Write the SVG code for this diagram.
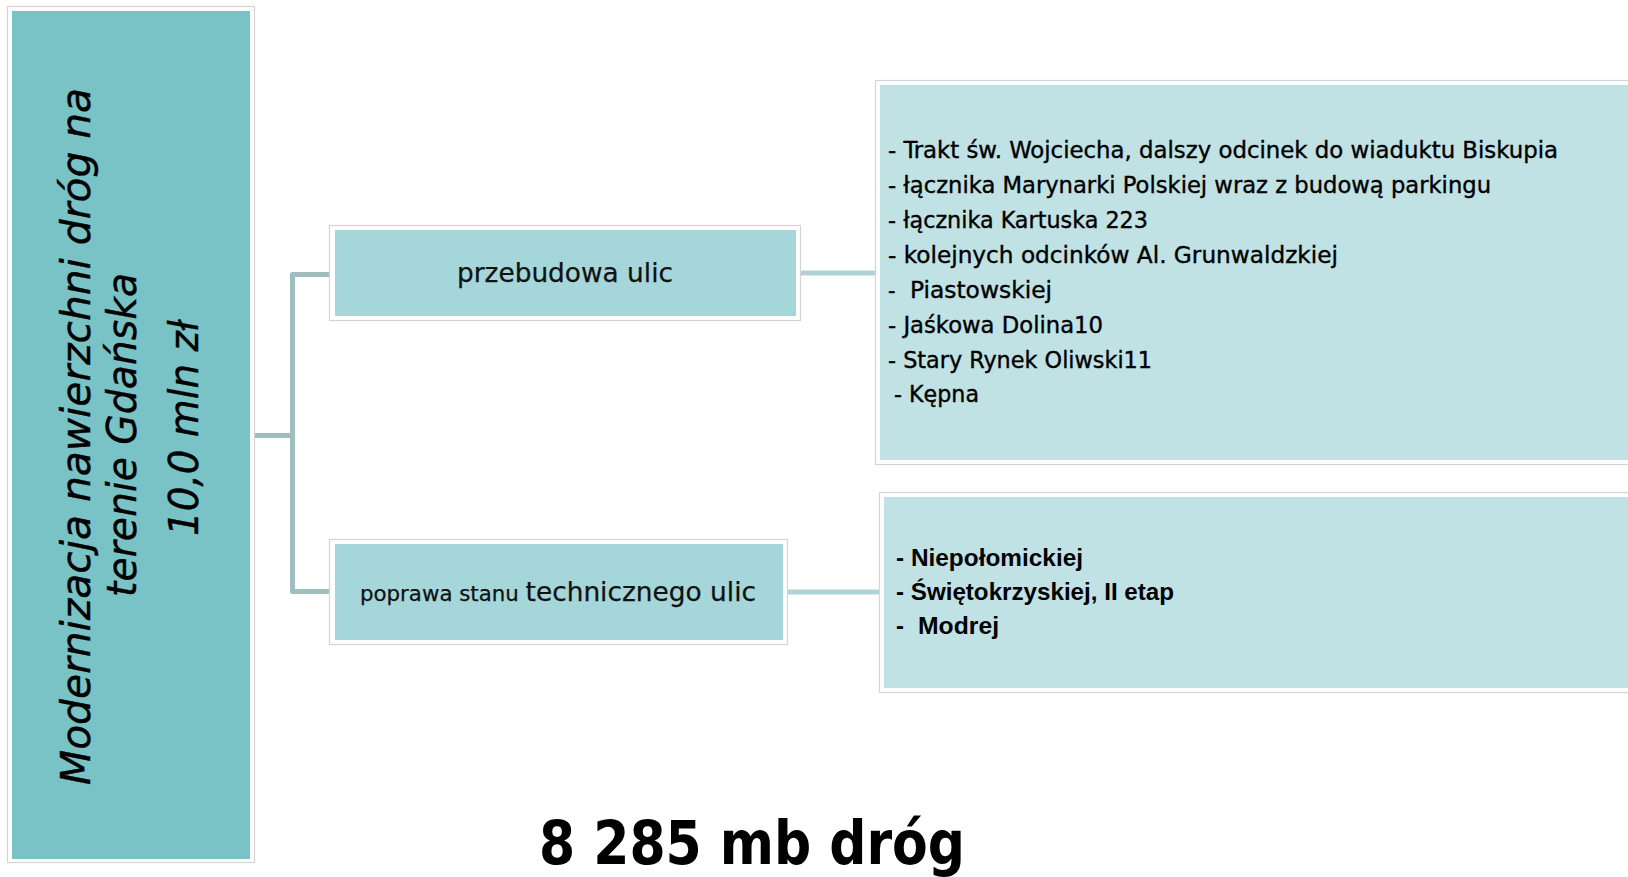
<svg xmlns="http://www.w3.org/2000/svg" width="1628" height="877" viewBox="0 0 1628 877">
<style>
.frame{fill:#FFFFFF;stroke:#D4D4D4;stroke-width:1.2}
.root{fill:#79C3C7}
.node{fill:#A5D6D9}
.box{fill:#C0E2E4}
.conn{fill:none;stroke:#9EBEC0;stroke-width:5;stroke-linejoin:round;stroke-linecap:butt}
.conn2{fill:none;stroke:#B0D4D6;stroke-width:5}
.rt{font-family:"DejaVu Sans","Liberation Sans",sans-serif;font-style:italic;font-size:40px;fill:#000;stroke:#000;stroke-width:0.4;text-anchor:middle}
.nt{font-family:"DejaVu Sans","Liberation Sans",sans-serif;font-size:26px;fill:#111;stroke:#111;stroke-width:0.25}
.it{font-family:"DejaVu Sans","Liberation Sans",sans-serif;font-stretch:condensed;font-size:23px;fill:#000;stroke:#000;stroke-width:0.35}
.bt{font-family:"Liberation Sans",Arial,sans-serif;font-weight:bold;font-size:24px;fill:#000}
.big{font-family:"DejaVu Sans","Liberation Sans",sans-serif;font-weight:bold;font-stretch:condensed;font-size:60px;fill:#000}
</style>
<rect x="0" y="0" width="1628" height="877" fill="#FFFFFF"/>
<g id="connectors">
<path class="conn" d="M255 435.5 H292.5"/>
<path class="conn" d="M330 274.5 H292.5 V591.5 H330"/>
<path class="conn2" d="M800 273 H875"/>
<path class="conn2" d="M788 592 H879"/>
</g>
<g id="root">
<rect class="frame" x="7.5" y="6.5" width="247" height="856"/>
<rect class="root" x="12" y="11" width="238" height="848"/>
<text class="rt" transform="translate(90 436.5) rotate(-90)" x="0" y="0" textLength="697" lengthAdjust="spacingAndGlyphs">Modernizacja nawierzchni dróg na</text>
<text class="rt" transform="translate(136 435) rotate(-90)" x="0" y="0" textLength="324" lengthAdjust="spacingAndGlyphs">terenie Gdańska</text>
<text class="rt" transform="translate(198 428) rotate(-90)" x="0" y="0" textLength="216" lengthAdjust="spacingAndGlyphs">10,0 mln zł</text>
</g>
<g id="node-przebudowa">
<rect class="frame" x="329.5" y="225.5" width="471" height="95"/>
<rect class="node" x="335" y="230" width="461" height="86"/>
<text class="nt" x="457" y="282" textLength="216" lengthAdjust="spacingAndGlyphs">przebudowa ulic</text>
</g>
<g id="node-poprawa">
<rect class="frame" x="329.5" y="539.5" width="458" height="105"/>
<rect class="node" x="335" y="544" width="448" height="96"/>
<text class="nt" x="360" y="601" textLength="396" lengthAdjust="spacingAndGlyphs"><tspan font-size="21">poprawa stanu </tspan><tspan>technicznego ulic</tspan></text>
</g>
<g id="box-przebudowa">
<rect class="frame" x="875.5" y="80.5" width="770" height="384"/>
<rect class="box" x="880" y="85" width="760" height="375"/>
<text class="it" x="888" y="158" textLength="670" lengthAdjust="spacingAndGlyphs">- Trakt św. Wojciecha, dalszy odcinek do wiaduktu Biskupia</text>
<text class="it" x="888" y="193" textLength="603" lengthAdjust="spacingAndGlyphs">- łącznika Marynarki Polskiej wraz z budową parkingu</text>
<text class="it" x="888" y="228" textLength="260" lengthAdjust="spacingAndGlyphs">- łącznika Kartuska 223</text>
<text class="it" x="888" y="263" textLength="450" lengthAdjust="spacingAndGlyphs">- kolejnych odcinków Al. Grunwaldzkiej</text>
<text class="it" x="888" y="298">-</text>
<text class="it" x="910" y="298" textLength="142" lengthAdjust="spacingAndGlyphs">Piastowskiej</text>
<text class="it" x="888" y="333" textLength="215" lengthAdjust="spacingAndGlyphs">- Jaśkowa Dolina10</text>
<text class="it" x="888" y="368" textLength="264" lengthAdjust="spacingAndGlyphs">- Stary Rynek Oliwski11</text>
<text class="it" x="894" y="402" textLength="85" lengthAdjust="spacingAndGlyphs">- Kępna</text>
</g>
<g id="box-poprawa">
<rect class="frame" x="879.5" y="492.5" width="770" height="200"/>
<rect class="box" x="884" y="497" width="760" height="191"/>
<text class="bt" x="896" y="566" textLength="187" lengthAdjust="spacingAndGlyphs">- Niepołomickiej</text>
<text class="bt" x="896" y="600" textLength="278" lengthAdjust="spacingAndGlyphs">- Świętokrzyskiej, II etap</text>
<text class="bt" x="896" y="634">-</text>
<text class="bt" x="918" y="634" textLength="81" lengthAdjust="spacingAndGlyphs">Modrej</text>
</g>
<g id="total">
<text class="big" x="539" y="864" textLength="426" lengthAdjust="spacingAndGlyphs">8 285 mb dróg</text>
</g>
</svg>
